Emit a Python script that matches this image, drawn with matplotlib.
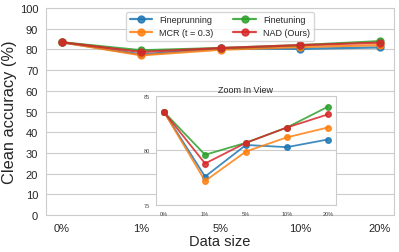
import matplotlib
matplotlib.use("Agg")
import matplotlib.pyplot as plt
import seaborn as sns

sizes = ["0%", "1%", "5%", "10%", "20%"]
fineprunning = [83.5, 77.6, 80.5, 80.3, 81.0]
mcr = [83.5, 77.2, 79.9, 81.2, 82.1]
finetuning = [83.5, 79.6, 80.7, 82.1, 84.0]
nad = [83.5, 78.8, 80.7, 82.1, 83.3]

series = [
    ("Fineprunning", fineprunning, "#1f77b4"),
    ("MCR (t = 0.3)", mcr, "#ff7f0e"),
    ("Finetuning", finetuning, "#2ca02c"),
    ("NAD (Ours)", nad, "#d62728"),
]

sns.set_style("whitegrid")
plt.rcParams['font.family'] = ['Liberation Sans', 'DejaVu Sans']

fig = plt.figure(figsize=(3.99, 2.53), dpi=100)
ax = fig.add_axes([0.115, 0.146, 0.872, 0.818])
xs = list(range(len(sizes)))

for name, vals, c in series:
    ax.plot(xs, vals, marker='o', color=c, lw=1.6, ms=5, alpha=0.85, label=name)

ax.set_ylim(0, 100)
ax.set_yticks(range(0, 101, 10))
ax.set_xticks(xs)
ax.set_xticklabels(sizes)
ax.set_xlim(-0.2, 4.18)
ax.grid(axis='x', visible=False)
ax.tick_params(labelsize=8, pad=2)
ax.set_xlabel("Data size", fontsize=10.5, labelpad=1)
ax.set_ylabel("Clean accuracy (%)", fontsize=11.8, labelpad=2)
ax.legend(ncol=2, loc='upper center', bbox_to_anchor=(0.5, 1.0), fontsize=6.5,
          frameon=True, handlelength=2.5, columnspacing=2.2, borderaxespad=0.4,
          labelspacing=0.4)

# zoomed inset
ins = fig.add_axes([0.391, 0.186, 0.451, 0.431])
for name, vals, c in series:
    ins.plot(xs, vals, marker='o', color=c, lw=1.3, ms=4, alpha=0.85)
ins.set_ylim(75, 85)
ins.set_yticks([75, 80, 85])
ins.set_xticks(xs)
ins.set_xticklabels(sizes)
ins.set_xlim(-0.2, 4.2)
ins.tick_params(labelsize=4, pad=1, colors='#444444')
ins.grid(axis='x', visible=False)
ins.set_title("Zoom In View", fontsize=6.5, pad=3)

fig.savefig("out.png", dpi=100)
